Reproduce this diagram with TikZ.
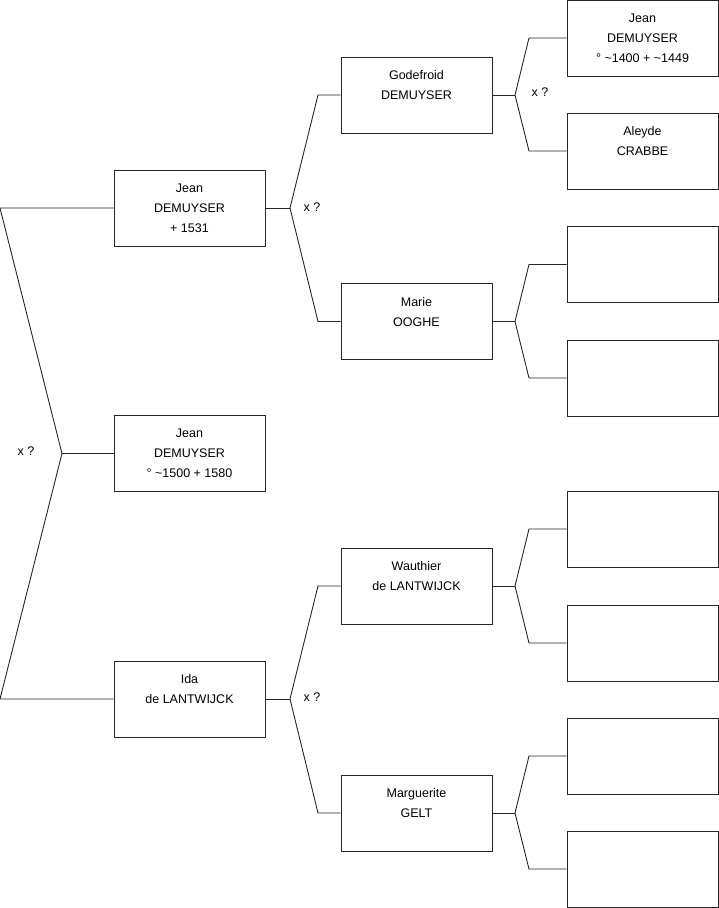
\documentclass[tikz,border=0pt]{standalone}
\usepackage{fontspec}
\setmainfont{Liberation Sans}
\begin{document}
\begin{tikzpicture}[x=1pt,y=-1pt,
  person/.style={draw=black!85,line width=0.9pt,minimum width=151pt,minimum height=76pt,inner sep=0pt,align=center,font=\fontsize{12.5}{20}\selectfont},
  link/.style={draw=black!85,line width=0.9pt},
  marriage/.style={font=\fontsize{12.5}{14}\selectfont}]
\useasboundingbox (0,0) rectangle (719,908);
% left column
\node[person] (j1531) at (189.5,208) {Jean\\DEMUYSER\\+ 1531};
\node[person] (j1500) at (189.5,453.5) {Jean\\DEMUYSER\\° \textasciitilde1500 + 1580};
\node[person] (ida) at (189.5,699) {Ida\\de LANTWIJCK\\\mbox{}};
% middle column
\node[person] (god) at (416.5,95) {Godefroid\\DEMUYSER\\\mbox{}};
\node[person] (marie) at (416.5,321.5) {Marie\\OOGHE\\\mbox{}};
\node[person] (wau) at (416.5,586) {Wauthier\\de LANTWIJCK\\\mbox{}};
\node[person] (marg) at (416.5,813) {Marguerite\\GELT\\\mbox{}};
% right column
\node[person] (r1) at (642.5,38) {Jean\\DEMUYSER\\° \textasciitilde1400 + \textasciitilde1449};
\node[person] (r2) at (642.5,151) {Aleyde\\CRABBE\\\mbox{}};
\node[person] (r3) at (642.5,264.5) {};
\node[person] (r4) at (642.5,378) {};
\node[person] (r5) at (642.5,529) {};
\node[person] (r6) at (642.5,643) {};
\node[person] (r7) at (642.5,756) {};
\node[person] (r8) at (642.5,869) {};
% junction coordinates
\coordinate (a0) at (62,453.5);
\coordinate (a1) at (0,208);
\coordinate (a2) at (0,699);
\coordinate (b0) at (290,208);
\coordinate (b1) at (318,95);
\coordinate (b2) at (318,321.5);
\coordinate (c0) at (290,699);
\coordinate (c1) at (318,586);
\coordinate (c2) at (318,813);
\coordinate (d0) at (515,95);
\coordinate (d1) at (529,38);
\coordinate (d2) at (529,151);
\coordinate (e0) at (515,321.5);
\coordinate (e1) at (529,264.5);
\coordinate (e2) at (529,378);
\coordinate (f0) at (515,586);
\coordinate (f1) at (529,529);
\coordinate (f2) at (529,643);
\coordinate (g0) at (515,813);
\coordinate (g1) at (529,756);
\coordinate (g2) at (529,869);
% connectors
\draw[link] (j1500.west) -- (a0);
\draw[link] (j1531.west) -- (a1) -- (a0) -- (a2) -- (ida.west);
\draw[link] (j1531.east) -- (b0);
\draw[link] (god.west) -- (b1) -- (b0) -- (b2) -- (marie.west);
\draw[link] (ida.east) -- (c0);
\draw[link] (wau.west) -- (c1) -- (c0) -- (c2) -- (marg.west);
\draw[link] (god.east) -- (d0);
\draw[link] (r1.west) -- (d1) -- (d0) -- (d2) -- (r2.west);
\draw[link] (marie.east) -- (e0);
\draw[link] (r3.west) -- (e1) -- (e0) -- (e2) -- (r4.west);
\draw[link] (wau.east) -- (f0);
\draw[link] (r5.west) -- (f1) -- (f0) -- (f2) -- (r6.west);
\draw[link] (marg.east) -- (g0);
\draw[link] (r7.west) -- (g1) -- (g0) -- (g2) -- (r8.west);
% marriage marks
\node[marriage] (m1) at (26,451) {x ?};
\node[marriage] (m2) at (312,207) {x ?};
\node[marriage] (m3) at (540,92) {x ?};
\node[marriage] (m4) at (312,697) {x ?};
\end{tikzpicture}
\end{document}
